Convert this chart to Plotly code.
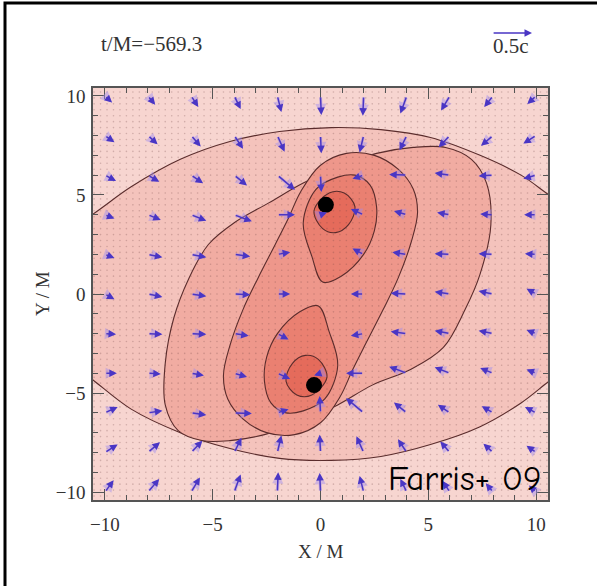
import numpy as np
import plotly.graph_objects as go

# ---- velocity field sampled on a 2M grid (components in units of c) ----
grid_x = [-10, -8, -6, -4, -2, 0, 2, 4, 6, 8, 10]
grid_y = [10, 8, 6, 4, 2, 0, -2, -4, -6, -8, -10]

vel_x = [
    [0.09, 0.09, 0.09, 0.08, 0.05, 0.01, -0.01, -0.08, -0.11, -0.11, -0.11],
    [0.12, 0.12, 0.12, 0.11, 0.09, 0.01, -0.05, -0.09, -0.14, -0.15, -0.16],
    [0.14, 0.14, 0.15, 0.16, 0.22, 0.01, -0.14, -0.22, -0.19, -0.18, -0.16],
    [0.12, 0.16, 0.19, 0.22, 0.22, 0.08, -0.16, -0.16, -0.16, -0.16, -0.15],
    [0.12, 0.18, 0.19, 0.20, 0.16, 0.00, -0.14, -0.18, -0.19, -0.18, -0.14],
    [0.12, 0.18, 0.19, 0.20, 0.16, 0.01, -0.16, -0.20, -0.19, -0.18, -0.12],
    [0.14, 0.18, 0.19, 0.18, 0.14, 0.00, -0.16, -0.20, -0.19, -0.18, -0.12],
    [0.15, 0.16, 0.16, 0.16, 0.16, -0.08, -0.22, -0.22, -0.19, -0.16, -0.12],
    [0.16, 0.18, 0.19, 0.22, 0.14, -0.01, -0.22, -0.16, -0.15, -0.14, -0.14],
    [0.16, 0.15, 0.14, 0.09, 0.05, -0.01, -0.09, -0.11, -0.12, -0.12, -0.12],
    [0.11, 0.14, 0.11, 0.08, 0.01, -0.01, -0.05, -0.08, -0.09, -0.09, -0.09],
]
vel_y = [
    [-0.09, -0.12, -0.15, -0.18, -0.22, -0.26, -0.27, -0.24, -0.20, -0.15, -0.11],
    [-0.09, -0.12, -0.15, -0.18, -0.22, -0.24, -0.23, -0.20, -0.16, -0.14, -0.11],
    [-0.08, -0.09, -0.11, -0.14, -0.20, -0.23, -0.05, 0.01, 0.03, -0.01, -0.05],
    [-0.05, -0.07, -0.08, -0.09, 0.00, 0.03, 0.08, 0.05, 0.03, 0.01, 0.00],
    [-0.05, -0.04, -0.04, -0.03, 0.03, 0.00, 0.08, 0.03, 0.01, 0.01, 0.01],
    [-0.07, -0.04, -0.03, -0.01, 0.00, 0.00, 0.00, 0.01, 0.03, 0.04, 0.07],
    [-0.01, -0.01, -0.01, -0.03, -0.08, 0.00, -0.03, 0.03, 0.04, 0.04, 0.05],
    [0.00, -0.01, -0.03, -0.05, -0.08, -0.03, 0.00, 0.09, 0.08, 0.07, 0.05],
    [0.08, 0.03, -0.03, -0.01, 0.05, 0.23, 0.20, 0.14, 0.11, 0.09, 0.08],
    [0.11, 0.14, 0.16, 0.20, 0.23, 0.24, 0.22, 0.18, 0.15, 0.12, 0.09],
    [0.16, 0.18, 0.20, 0.24, 0.27, 0.26, 0.22, 0.18, 0.15, 0.12, 0.09],
]
REF_SPEED = 0.5          # speed of the key arrow, in c
ARROW_SCALE = 3.7        # M of arrow length per unit of c

# ---- density contour outlines (x/M, y/M), lowest level first ----
lvl1_x = [-11.6, -10.6, -8.8, -6.5, -4.2, -1.9, 0.5, 2.8, 5.1, 7.4, 9.3, 10.6, 11.6,
          11.6, 10.6, 9.3, 7.4, 5.1, 2.8, 0.5, -1.9, -4.2, -6.5, -8.8, -10.6, -11.6]
lvl1_y = [3.4, 4.0, 5.4, 6.8, 7.7, 8.2, 8.4, 8.3, 7.9, 7.0, 6.0, 5.0, 4.3,
          -3.6, -4.4, -5.5, -6.7, -7.6, -8.2, -8.4, -8.3, -7.8, -7.0, -5.8, -4.3, -3.5]

lvl2_x = [-4.0, -2.4, -0.8, 1.0, 2.6, 4.3, 5.8, 7.0, 7.7, 7.9, 7.4, 6.7, 5.7,
          4.2, 2.4, 0.8, -1.0, -2.6, -4.2, -5.5, -6.6, -7.2, -7.2, -6.8, -6.1, -5.2]
lvl2_y = [3.6, 4.6, 5.6, 6.5, 7.1, 7.4, 7.4, 6.8, 5.6, 3.5, 1.0, -0.8, -2.7,
          -3.8, -4.6, -5.6, -6.5, -7.1, -7.4, -7.4, -6.9, -5.6, -3.5, -1.2, 0.8, 2.5]

lvl3_x = [-0.9, 0.0, 1.2, 2.5, 3.6, 4.3, 4.5, 4.2, 3.6, 2.9, 2.1, 1.5,
          0.9, 0.0, -1.2, -2.5, -3.6, -4.3, -4.5, -4.2, -3.6, -2.9, -2.1, -1.5]
lvl3_y = [5.2, 6.5, 7.1, 7.0, 6.3, 5.3, 4.1, 2.6, 0.8, -0.8, -2.5, -3.8,
          -5.2, -6.5, -7.1, -7.0, -6.3, -5.3, -4.1, -2.6, -0.8, 0.8, 2.5, 3.8]

lvl4a_x = [-0.2, -0.8, -0.4, 0.1, 0.96, 2.0, 2.5, 2.6, 2.3, 1.6, 0.8]
lvl4a_y = [5.3, 3.6, 1.9, 0.6, 0.9, 2.0, 3.2, 4.4, 5.5, 6.0, 5.9]
lvl4b_x = [0.2, 0.8, 0.4, -0.1, -0.96, -2.0, -2.5, -2.6, -2.3, -1.6, -0.8]
lvl4b_y = [-5.3, -3.6, -1.9, -0.6, -0.9, -2.0, -3.2, -4.4, -5.5, -6.0, -5.9]

lvl5a_x = [-0.3, 0.1, 0.7, 1.3, 1.6, 1.1, 0.4]
lvl5a_y = [4.2, 3.3, 3.1, 3.5, 4.4, 5.1, 5.1]
lvl5b_x = [0.3, -0.1, -0.7, -1.3, -1.6, -1.1, -0.4]
lvl5b_y = [-4.2, -3.3, -3.1, -3.5, -4.4, -5.1, -5.1]

# ---- black hole positions ----
bh_x = [0.25, -0.3]
bh_y = [4.5, -4.6]

TIME_LABEL = "t/M=\u2212569.3"
KEY_LABEL = "0.5c"
CREDIT = "Farris+ 09"

# ---- styling ----
BG = "#f7d5d0"
LEVEL_COLORS = ["#f4c3bc", "#f1aca2", "#ee978b", "#ea8071", "#e56b5b"]
LINE_COLOR = "#5a2c2c"
ARROW_COLOR = "#4a36c4"
HALO_COLOR = "rgba(160,140,240,0.45)"
SERIF = "Liberation Serif, Times New Roman, serif"

W, H = 597, 586
ML, MR, MT, MB = 93, 49, 88, 86
PW = W - ML - MR
PH = H - MT - MB
XR = [-10.55, 10.55]
YR = [-10.4, 10.4]


def px_x(p):
    return (p - ML) / PW


def px_y(p):
    return (H - MB - p) / PH


fig = go.Figure()

levels = [
    (lvl1_x, lvl1_y, LEVEL_COLORS[0]),
    (lvl2_x, lvl2_y, LEVEL_COLORS[1]),
    (lvl3_x, lvl3_y, LEVEL_COLORS[2]),
    (lvl4a_x, lvl4a_y, LEVEL_COLORS[3]),
    (lvl4b_x, lvl4b_y, LEVEL_COLORS[3]),
    (lvl5a_x, lvl5a_y, LEVEL_COLORS[4]),
    (lvl5b_x, lvl5b_y, LEVEL_COLORS[4]),
]
for xs, ys, col in levels:
    fig.add_trace(go.Scatter(
        x=xs + xs[:1], y=ys + ys[:1], mode="lines", fill="toself",
        fillcolor=col, line=dict(color=LINE_COLOR, width=1.1, shape="spline", smoothing=1.0),
        hoverinfo="skip", showlegend=False))

# fine stipple of the output mesh printed over the plane
mesh = np.arange(-10.5, 10.51, 0.3)
mx, my = np.meshgrid(mesh, mesh)
fig.add_trace(go.Scatter(
    x=mx.ravel(), y=my.ravel(), mode="markers",
    marker=dict(size=1.6, color="rgba(110,70,70,0.28)"),
    hoverinfo="skip", showlegend=False))

fig.add_trace(go.Scatter(
    x=bh_x, y=bh_y, mode="markers",
    marker=dict(size=16, color="black"), hoverinfo="skip", showlegend=False))

annotations = []
for j, yv in enumerate(grid_y):
    for i, xv in enumerate(grid_x):
        vx, vy = vel_x[j][i], vel_y[j][i]
        if abs(vx) + abs(vy) < 0.015:
            continue
        hx = xv + vx * ARROW_SCALE
        hy = yv + vy * ARROW_SCALE
        for col, wid, hs in ((HALO_COLOR, 3.2, 0.7), (ARROW_COLOR, 1.5, 1.0)):
            annotations.append(dict(
                x=hx, y=hy, ax=xv, ay=yv, xref="x", yref="y", axref="x", ayref="y",
                text="", showarrow=True, arrowhead=2, arrowsize=hs, arrowwidth=wid,
                arrowcolor=col, standoff=0, startstandoff=0))

# key arrow for 0.5c
key_len_px = REF_SPEED * ARROW_SCALE * PW / (XR[1] - XR[0])
annotations.append(dict(
    x=px_x(532), y=px_y(33), xref="paper", yref="paper",
    ax=-key_len_px, ay=0, axref="pixel", ayref="pixel",
    text="", showarrow=True, arrowhead=2, arrowsize=1.0, arrowwidth=1.5,
    arrowcolor=ARROW_COLOR, standoff=0))
annotations.append(dict(
    x=px_x(531), y=px_y(46), xref="paper", yref="paper", xanchor="right", yanchor="middle",
    text=KEY_LABEL, showarrow=False, font=dict(family=SERIF, size=21, color="#333")))
annotations.append(dict(
    x=px_x(99), y=px_y(44), xref="paper", yref="paper", xanchor="left", yanchor="middle",
    text=TIME_LABEL, showarrow=False, font=dict(family=SERIF, size=21, color="#333")))
annotations.append(dict(
    x=0.5, y=px_y(551), xref="paper", yref="paper", xanchor="center", yanchor="middle",
    text="X / M", showarrow=False, font=dict(family=SERIF, size=19, color="#333")))
annotations.append(dict(
    x=px_x(42), y=0.5, xref="paper", yref="paper", xanchor="center", yanchor="middle",
    text="Y / M", textangle=-90, showarrow=False, font=dict(family=SERIF, size=19, color="#333")))
annotations.append(dict(
    x=10.35, y=-9.3, xref="x", yref="y", xanchor="right", yanchor="middle",
    text=CREDIT, showarrow=False,
    font=dict(family="Comic Sans MS, Comic Neue, Lato, sans-serif", size=35, color="black")))

axis_common = dict(
    showgrid=False, zeroline=False, showline=True, linecolor="#555", linewidth=1.5,
    mirror="ticks", ticks="inside", ticklen=11, tickwidth=1.3, tickcolor="#555",
    tickvals=[-10, -5, 0, 5, 10], ticktext=["\u221210", "\u22125", "0", "5", "10"],
    tickfont=dict(family=SERIF, size=19, color="#333"),
    minor=dict(dtick=1, ticks="inside", ticklen=5, tickcolor="#555", tickwidth=1, showgrid=False),
)

fig.update_layout(
    width=W, height=H,
    margin=dict(l=ML, r=MR, t=MT, b=MB),
    paper_bgcolor="white", plot_bgcolor=BG,
    xaxis=dict(range=XR, ticklabelstandoff=6, **axis_common),
    yaxis=dict(range=YR, ticklabelstandoff=2, **axis_common),
    annotations=annotations,
    shapes=[dict(type="rect", xref="paper", yref="paper",
                 x0=px_x(5), x1=px_x(640), y0=px_y(640), y1=px_y(3),
                 line=dict(color="black", width=3), fillcolor="rgba(0,0,0,0)", layer="above")],
    showlegend=False,
)

fig.write_html("out.html")
